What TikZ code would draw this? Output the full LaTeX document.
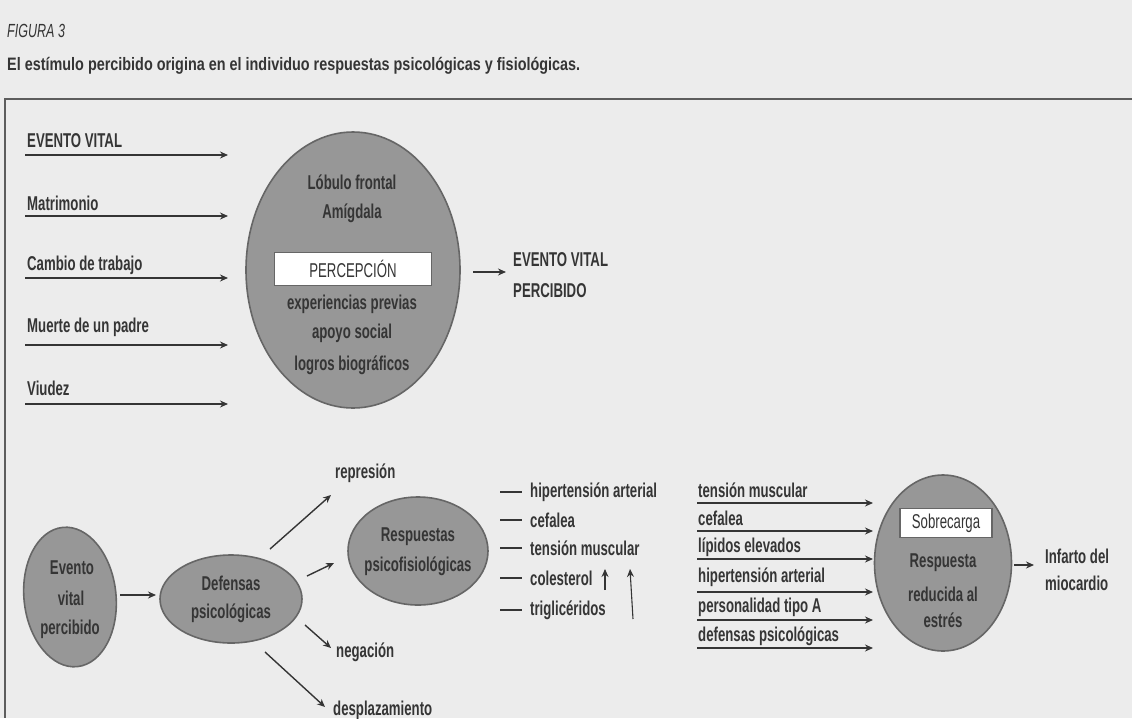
\documentclass[tikz,border=0pt]{standalone}
\usepackage{fontspec}
\setmainfont{Liberation Sans}[FakeStretch=0.66]
\newfontfamily\capfont{Liberation Sans}[FakeStretch=0.8]
\usetikzlibrary{shapes.geometric,arrows.meta}
\definecolor{bg}{HTML}{ECECEC}
\definecolor{ink}{HTML}{353535}
\definecolor{ellfill}{HTML}{979797}
\definecolor{ellline}{HTML}{666666}
\tikzset{
  lbl/.style={font=\fontsize{20}{22}\selectfont\bfseries, text=ink, inner sep=0pt},
  lblw/.style={lbl, anchor=west},
  arr/.style={draw=ink, line width=1.4pt, -{Stealth[length=8pt,width=7pt]}},
  plain/.style={draw=ink, line width=1.4pt},
  ellnode/.style={ellipse, draw=ellline, line width=1.6pt, fill=ellfill, inner sep=0pt},
  whitebox/.style={rectangle, draw=ellline, line width=1.4pt, fill=white, inner sep=0pt},
  frame/.style={draw=ink!80, line width=1.6pt}
}
\begin{document}
\begin{tikzpicture}[x=1pt,y=-1pt]
\fill[bg] (0,0) rectangle (1132,718);
\useasboundingbox (0,0) rectangle (1132,718);

% heading
\node[lblw, font=\fontsize{19}{21}\selectfont\itshape] (fig) at (7,31) {FIGURA 3};
\node[lblw, font=\capfont\fontsize{18}{20}\selectfont\bfseries] (cap) at (7,66) {El estímulo percibido origina en el individuo respuestas psicológicas y fisiológicas.};

% frame
\coordinate (ftr) at (1132,99);
\coordinate (ftl) at (5,99);
\coordinate (fbl) at (5,718);
\draw[frame] (ftr) -- (ftl) -- (fbl);

% top: life events
\foreach \t/\ty/\ay [count=\i] in {EVENTO VITAL/141/155, Matrimonio/203/216, Cambio de trabajo/265/278, Muerte de un padre/327/345, Viudez/388/404}{
  \node[lblw] (in\i) at (27,\ty) {\t};
  \coordinate (ia\i) at (25,\ay);
  \coordinate (ib\i) at (228,\ay);
  \draw[arr] (ia\i) -- (ib\i);
}

% big ellipse
\node[ellnode, minimum width=214pt, minimum height=276pt] (perc) at (353,270) {};
\node[lbl] (lob) at (352,182) {Lóbulo frontal};
\node[lbl] (ami) at (352,213) {Amígdala};
\node[whitebox, minimum width=157pt, minimum height=33pt, lbl] (pbox) at (353,269) {\mdseries PERCEPCIÓN};
\node[lbl] (exp) at (352,304) {experiencias previas};
\node[lbl] (apo) at (352,333) {apoyo social};
\node[lbl] (log) at (352,365) {logros biográficos};

\node[lblw] (evp1) at (513,260) {EVENTO VITAL};
\node[lblw] (evp2) at (513,291) {PERCIBIDO};
\coordinate (po1) at (473,272);
\coordinate (po2) at (506,272);
\draw[arr] (po1) -- (po2);

% bottom: left chain
\node[ellnode, minimum width=92pt, minimum height=140pt, rotate=6] (evb) at (70,597) {};
\node[lbl] (evb1) at (72,568) {Evento};
\node[lbl] (evb2) at (71,598) {vital};
\node[lbl] (evb3) at (70,629) {percibido};

\node[ellnode, minimum width=142pt, minimum height=88pt] (def) at (231,599) {};
\node[lbl] (def1) at (231,583) {Defensas};
\node[lbl] (def2) at (231,613) {psicológicas};

\coordinate (ea) at (120,595);
\coordinate (eb) at (156,595);
\draw[arr] (ea) -- (eb);

\node[ellnode, minimum width=140pt, minimum height=108pt] (resp) at (418,551) {};
\node[lbl] (resp1) at (418,537) {Respuestas};
\node[lbl] (resp2) at (418,566) {psicofisiológicas};

\node[lblw] (rep) at (335,473) {represión};
\node[lblw] (neg) at (336,652) {negación};
\node[lblw] (des) at (333,710) {desplazamiento};

\coordinate (d1a) at (270,549); \coordinate (d1b) at (331,495);
\coordinate (d2a) at (307,576); \coordinate (d2b) at (334,563);
\coordinate (d3a) at (305,625); \coordinate (d3b) at (331,648);
\coordinate (d4a) at (265,652); \coordinate (d4b) at (325,707);
\draw[arr] (d1a) -- (d1b);
\draw[arr] (d2a) -- (d2b);
\draw[arr] (d3a) -- (d3b);
\draw[arr] (d4a) -- (d4b);

% symptom list
\foreach \t/\ty [count=\i] in {hipertensión arterial/492, cefalea/520, tensión muscular/548, colesterol/578, triglicéridos/610}{
  \node[lblw] (s\i) at (530,\ty) {\t};
  \coordinate (sa\i) at (500,\ty);
  \coordinate (sb\i) at (522,\ty);
  \draw[plain, line width=1.2pt] (sa\i) -- (sb\i);
}
\coordinate (u1a) at (605,590); \coordinate (u1b) at (605,569);
\coordinate (u2a) at (633,619); \coordinate (u2b) at (630,569);
\draw[arr, line width=1.1pt] (u1a) -- (u1b);
\draw[arr, line width=1.1pt] (u2a) -- (u2b);

% right: risk factors
\foreach \t/\ty/\ay [count=\i] in {tensión muscular/490/503, cefalea/518/531, lípidos elevados/547/559, hipertensión arterial/577/592, personalidad tipo A/607/620, defensas psicológicas/636/648}{
  \node[lblw] (r\i) at (698,\ty) {\t};
  \coordinate (ra\i) at (697,\ay);
  \coordinate (rb\i) at (873,\ay);
  \draw[arr] (ra\i) -- (rb\i);
}

\node[ellnode, minimum width=137pt, minimum height=176pt] (sob) at (943,563) {};
\node[whitebox, minimum width=92pt, minimum height=29pt, lbl] (sbox) at (946,523) {\mdseries Sobrecarga};
\node[lbl] (sob1) at (943,563) {Respuesta};
\node[lbl] (sob2) at (943,594) {reducida al};
\node[lbl] (sob3) at (943,620) {estrés};

\coordinate (ia) at (1014,565);
\coordinate (ib) at (1034,565);
\draw[arr] (ia) -- (ib);
\node[lblw] (inf1) at (1045,556) {Infarto del};
\node[lblw] (inf2) at (1045,583) {miocardio};
\end{tikzpicture}
\end{document}
